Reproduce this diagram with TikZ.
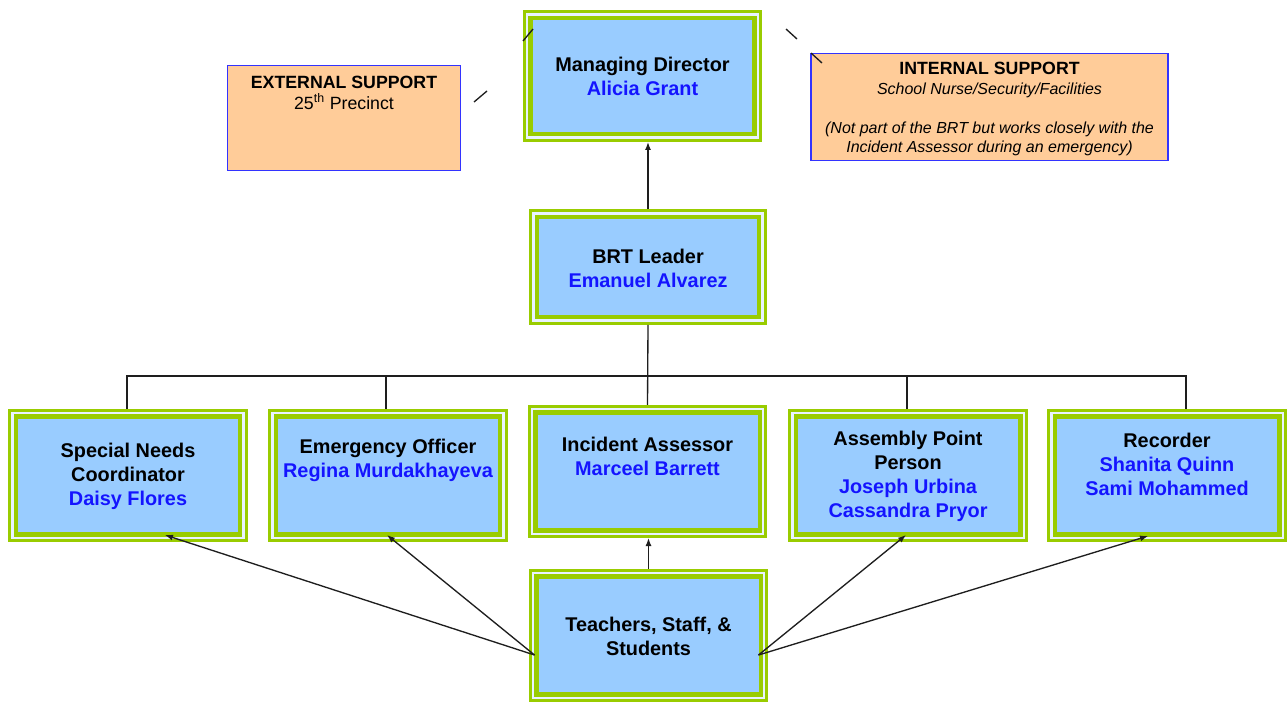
\documentclass[tikz,border=0pt]{standalone}
\usepackage{fontspec}
\setmainfont{Liberation Sans}
\usetikzlibrary{arrows.meta,calc}
\definecolor{grn}{RGB}{153,204,0}
\definecolor{boxblue}{RGB}{153,204,255}
\definecolor{gapc}{RGB}{232,242,255}
\definecolor{nameblue}{RGB}{20,20,255}
\definecolor{peach}{RGB}{255,204,153}
\definecolor{supblue}{RGB}{51,51,255}
\definecolor{linec}{RGB}{30,30,30}
\newcommand{\nmblue}[1]{\textcolor{nameblue}{#1}}
\begin{document}
\begin{tikzpicture}[x=0.75pt,y=-0.75pt,
 box/.style={draw=grn,double=gapc,line width=2.25pt,double distance=1.875pt,fill=boxblue,inner sep=0pt,outer sep=3.19pt,minimum width=173.6pt,minimum height=93.4pt,
   path picture={\draw[grn,line width=8.6pt] (path picture bounding box.south west) rectangle (path picture bounding box.north east);}},
 txt/.style={align=center,inner sep=0pt,font=\fontsize{14.9}{18}\selectfont\bfseries},
 supbox/.style={draw=supblue,line width=1.1pt,fill=peach,inner sep=0pt,outer sep=0pt},
 conn/.style={draw=linec,line width=1pt},
 arr/.style={conn,-{Latex[length=6pt,width=4.5pt]}}]
\useasboundingbox (0,0) rectangle (1287,703);
\fill[white] (0,0) rectangle (1287,703);

% support boxes
\node[supbox,minimum width=174.5pt,minimum height=78.5pt] (ext) at (344,118) {};
\node[supbox,minimum width=268pt,minimum height=80pt] (int) at (989.5,107) {};
\node[align=center,inner sep=0pt,font=\fontsize{13.3}{15.75}\selectfont] (extt) at (344,92.5)
  {\textbf{EXTERNAL SUPPORT}\\25\textsuperscript{th} Precinct};
\node[align=center,inner sep=0pt,font=\fontsize{12}{14.6}\selectfont\itshape] (intt) at (989.5,109)
  {{\fontsize{13.3}{14.6}\selectfont\bfseries\upshape INTERNAL SUPPORT}\\School Nurse/Security/Facilities\\[14.6pt](Not part of the BRT but works closely with the\\Incident Assessor during an emergency)};

% role boxes
\node[box,minimum width=172.9pt,minimum height=92.6pt] (md) at (642.5,76) {};
\node[box,minimum width=172.1pt,minimum height=80.6pt] (brt) at (648,267) {};
\node[box] (ia) at (647.5,471.5) {};
\node[box] (eo) at (388,475.5) {};
\node[box] (sn) at (128,475.5) {};
\node[box] (ap) at (908,475.5) {};
\node[box] (rec) at (1167,475.5) {};
\node[box] (tss) at (648.5,635.5) {};

% texts
\node[txt] (mdt) at (642.5,76) {Managing Director\\\nmblue{Alicia Grant}};
\node[txt] (brtt) at (648,268) {BRT Leader\\\nmblue{Emanuel Alvarez}};
\node[txt] (iat) at (647.5,456) {Incident Assessor\\\nmblue{Marceel Barrett}};
\node[txt] (eot) at (388,460) {Emergency Officer\\\nmblue{Regina Murdakhayeva}};
\node[txt] (snt) at (128,476) {Special Needs\\Coordinator\\\nmblue{Daisy Flores}};
\node[txt] (apt) at (908,476) {Assembly Point\\Person\\\nmblue{Joseph Urbina}\\\nmblue{Cassandra Pryor}};
\node[txt] (rect) at (1167,464) {Recorder\\\nmblue{Shanita Quinn}\\\nmblue{Sami Mohammed}};
\node[txt] (tsst) at (648.5,636) {Teachers, Staff, \&\\Students};

% connectors
\draw[arr] (brt.north) -- (brt.north |- md.south);
\draw[conn] (brt.south) -- (ia.north);
\coordinate (b1) at (127,376);
\coordinate (b2) at (386,376);
\coordinate (b4) at (907,376);
\coordinate (b5) at (1186,376);
\draw[conn] (b1 |- sn.north) -- (b1) -- (b5) -- (b5 |- rec.north);
\draw[conn] (b2) -- (b2 |- eo.north);
\draw[conn] (b4) -- (b4 |- ap.north);

\coordinate (tl) at ($(tss.west)+(6,19.5)$);
\coordinate (tr) at ($(tss.east)+(-10,19.5)$);
\draw[arr] (tl) -- ($(sn.south)+(37,-7)$);
\draw[arr] (tl) -- ($(eo.south)+(-1,-7)$);
\draw[arr] (tr) -- ($(ap.south)+(-2,-7)$);
\draw[arr] (tr) -- ($(rec.south)+(-19,-6)$);
\draw[arr] (tss.north) -- (tss.north |- ia.south);

% short stubs
\coordinate (s1a) at (474,102); \coordinate (s1b) at (487,91);
\coordinate (s2a) at (523,41);  \coordinate (s2b) at (533,29);
\coordinate (s3a) at (786,29);  \coordinate (s3b) at (797,39);
\coordinate (s4a) at (811,53);  \coordinate (s4b) at (822,63);
\draw[conn] (s1a) -- (s1b);
\draw[conn] (s2a) -- (s2b);
\draw[conn] (s3a) -- (s3b);
\draw[conn] (s4a) -- (s4b);
\end{tikzpicture}
\end{document}
